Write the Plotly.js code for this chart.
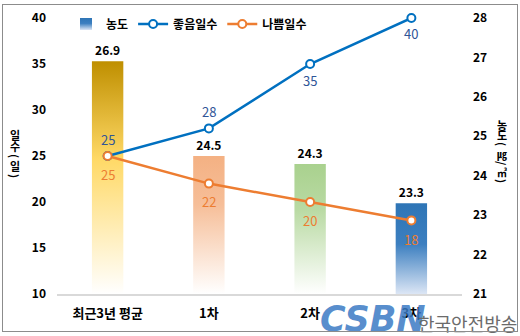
<!DOCTYPE html>
<html>
<head>
<meta charset="utf-8">
<script src="https://cdn.plot.ly/plotly-3.0.1.min.js"></script>
<style>
  html, body { margin:0; padding:0; background:#fff; }
  #wrap { position:relative; width:520px; height:336px; }
  #chart { width:520px; height:336px; }
  #frame { position:absolute; left:2px; top:4px; width:514px; height:326px; border:1px solid #8c8c8c; pointer-events:none; }
</style>
</head>
<body>
<div id="wrap"><div id="chart"></div><div id="frame"></div></div>
<script>
const categories = ['최근3년 평균', '1차', '2차', '3차'];
const concentration = [26.9, 24.5, 24.3, 23.3];   // 농도 (㎍/㎥), right axis
const goodDays = [25, 28, 35, 40];                 // 좋음일수 (일), left axis
const badDays = [25, 22, 20, 18];                  // 나쁨일수 (일), left axis
const leftTicks = [10, 15, 20, 25, 30, 35, 40];
const rightTicks = [21, 22, 23, 24, 25, 26, 27, 28];
const leftTitleChars = ['일', '수', '(', '일', ')'];
const rightTitleChars = ['농', '도', '(', '㎍', '/', '㎥', ')'];

const FONT = '"Noto Sans CJK KR", "Noto Sans", sans-serif';
const RIGHT_RANGE = [21, 28];
const LEFT_RANGE = [10, 40];

// label offsets in pixels (negative = above point)
const goodLabelShift = [17, 17, -16, -15];
const badLabelShift = [-18, -18, -18, -19];

const barGradients = [
  [[0, '#BF8F00'], [0.42, '#FFD966'], [1, '#FFFFFF']],
  [[0, '#F4B183'], [0.35, '#F6BE98'], [1, '#FFFFFF']],
  [[0, '#A9D18E'], [0.35, '#B9DAA3'], [1, '#FFFFFF']],
  [[0, '#2E75B6'], [0.45, '#3C7FC0'], [1, '#DCE6F5']]
];

// pixel positions (figure coords) of stacked vertical title characters
const leftTitleY = [135, 146, 156, 166, 176];
const rightTitleY = [125, 135, 144, 153, 163, 172, 181];

const traces = [
  {
    type: 'bar', name: '농도', x: categories, y: concentration,
    yaxis: 'y', width: 0.31,
    marker: { color: '#2E75B6', line: { width: 0 } },
    text: concentration.map(v => v.toFixed(1)), textposition: 'outside',
    textfont: { family: FONT, size: 12, color: '#000', weight: 'bold' },
    cliponaxis: false, hoverinfo: 'skip'
  },
  {
    type: 'scatter', mode: 'lines+markers', name: '좋음일수',
    x: categories, y: goodDays, yaxis: 'y2',
    line: { color: '#0070C0', width: 2.5 },
    marker: { symbol: 'circle', size: 8, color: '#FFFFFF', line: { color: '#0070C0', width: 2 } },
    cliponaxis: false, hoverinfo: 'skip'
  },
  {
    type: 'scatter', mode: 'lines+markers', name: '나쁨일수',
    x: categories, y: badDays, yaxis: 'y2',
    line: { color: '#ED7D31', width: 2.5 },
    marker: { symbol: 'circle', size: 8, color: '#FFFFFF', line: { color: '#ED7D31', width: 2 } },
    cliponaxis: false, hoverinfo: 'skip'
  }
];

const ML = 57, MR = 58, MT = 18, MB = 42, W = 520, H = 336;
const PW = W - ML - MR, PH = H - MT - MB;
const px2x = x => (x - ML) / PW;
const px2y = y => (H - MB - y) / PH;

const annotations = [];
categories.forEach((c, i) => {
  annotations.push({ xref: 'x', yref: 'y2', x: c, y: goodDays[i], yshift: goodLabelShift[i],
    text: String(goodDays[i]), showarrow: false, xanchor: 'center', yanchor: 'middle',
    font: { family: FONT, size: 13, color: '#2F5597' } });
  annotations.push({ xref: 'x', yref: 'y2', x: c, y: badDays[i], yshift: badLabelShift[i],
    text: String(badDays[i]), showarrow: false, xanchor: 'center', yanchor: 'middle',
    font: { family: FONT, size: 13, color: '#ED7D31' } });
});
leftTitleChars.forEach((c, i) => {
  const rot = '()/'.includes(c);
  annotations.push({ xref: 'paper', yref: 'paper', x: px2x(15), y: px2y(leftTitleY[i]),
    xanchor: 'center', yanchor: 'middle', text: c, showarrow: false, textangle: rot ? 90 : 0,
    borderpad: 0, font: { family: FONT, size: 11, color: '#000', weight: 'bold' } });
});
rightTitleChars.forEach((c, i) => {
  const rot = '()/'.includes(c);
  annotations.push({ xref: 'paper', yref: 'paper', x: px2x(502), y: px2y(rightTitleY[i]),
    xanchor: 'center', yanchor: 'middle', text: c, showarrow: false, textangle: rot ? 90 : 0,
    borderpad: 0, font: { family: FONT, size: '㎍㎥'.includes(c) ? 10 : 11, color: '#000', weight: 'bold' } });
});
annotations.push(
  { xref: 'paper', yref: 'paper', x: px2x(318), y: px2y(319), xanchor: 'left', yanchor: 'middle',
    text: '<i>CSBN</i>', showarrow: false,
    font: { family: 'DejaVu Sans', size: 35, color: 'rgba(58,122,196,0.85)', weight: 'bold' } },
  { xref: 'paper', yref: 'paper', x: px2x(519), y: px2y(323), xanchor: 'right', yanchor: 'middle',
    text: '한국안전방송', showarrow: false,
    font: { family: FONT, size: 18, color: '#6b6b6b' } }
);

const layout = {
  width: W, height: H,
  margin: { l: ML, r: MR, t: MT, b: MB, autoexpand: false },
  paper_bgcolor: '#fff', plot_bgcolor: 'rgba(0,0,0,0)',
  font: { family: FONT, size: 12, color: '#000' },
  showlegend: true,
  legend: {
    orientation: 'h', x: px2x(66), y: px2y(24), xanchor: 'left', yanchor: 'middle',
    bgcolor: 'rgba(0,0,0,0)', font: { family: FONT, size: 12, color: '#000', weight: 'bold' },
    traceorder: 'normal', itemwidth: 30
  },
  xaxis: {
    type: 'category', showgrid: false, zeroline: false,
    showline: true, linecolor: '#D9D9D9', linewidth: 2,
    ticks: '', ticklabelstandoff: 6,
    tickfont: { family: FONT, size: 13, color: '#000', weight: 'bold' }
  },
  yaxis: {
    range: RIGHT_RANGE, side: 'right', tickvals: rightTicks,
    showgrid: false, zeroline: false, showline: false, ticks: '',
    ticklabelstandoff: 10,
    tickfont: { family: FONT, size: 12, color: '#000', weight: 'bold' }
  },
  yaxis2: {
    range: LEFT_RANGE, overlaying: 'y', side: 'left', tickvals: leftTicks,
    showgrid: false, zeroline: false, showline: false, ticks: '',
    ticklabelstandoff: 10,
    tickfont: { family: FONT, size: 12, color: '#000', weight: 'bold' }
  },
  annotations: annotations
};

function makeGradient(defs, id, stops, userY) {
  const NS = 'http://www.w3.org/2000/svg';
  const g = document.createElementNS(NS, 'linearGradient');
  g.setAttribute('id', id);
  if (userY) {
    g.setAttribute('gradientUnits', 'userSpaceOnUse');
    g.setAttribute('x1', '0'); g.setAttribute('x2', '0');
    g.setAttribute('y1', String(userY[0])); g.setAttribute('y2', String(userY[1]));
  } else {
    g.setAttribute('x1', '0'); g.setAttribute('y1', '0');
    g.setAttribute('x2', '0'); g.setAttribute('y2', '1');
  }
  stops.forEach(([off, col]) => {
    const s = document.createElementNS(NS, 'stop');
    s.setAttribute('offset', String(off)); s.setAttribute('stop-color', col);
    g.appendChild(s);
  });
  defs.appendChild(g);
}

Plotly.newPlot('chart', traces, layout, { staticPlot: true, displayModeBar: false }).then(gd => {
  const NS = 'http://www.w3.org/2000/svg';
  const svg = gd.querySelector('svg.main-svg');
  let defs = svg.querySelector('defs');
  if (!defs) { defs = document.createElementNS(NS, 'defs'); svg.insertBefore(defs, svg.firstChild); }
  const plotH = gd._fullLayout._size.h;
  const paths = gd.querySelectorAll('.barlayer .point path');
  paths.forEach((p, i) => {
    const bb = p.getBBox();
    const top = bb.y, bottom = Math.min(bb.y + bb.height, plotH);
    makeGradient(defs, 'barGrad' + i, barGradients[i % barGradients.length], [top, bottom]);
    p.style.fill = 'url(#barGrad' + i + ')';
  });
  makeGradient(defs, 'legGrad', barGradients[3], null);
  const legBar = gd.querySelector('.legend .legendpoints path');
  if (legBar) legBar.style.fill = 'url(#legGrad)';
});
</script>
</body>
</html>
